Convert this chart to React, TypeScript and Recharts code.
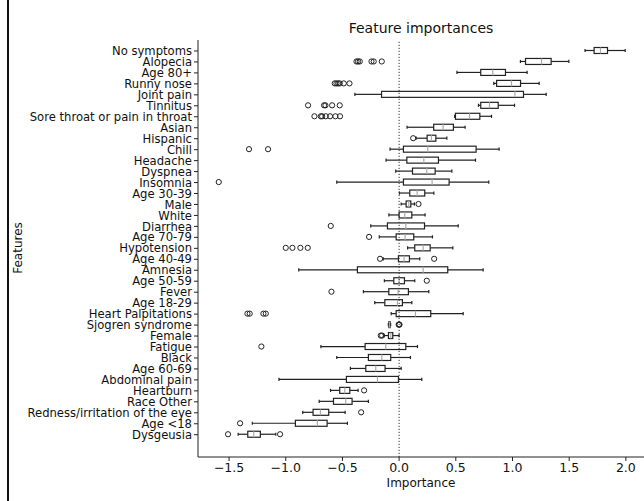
import React from 'react';
import { ComposedChart, Bar, XAxis, YAxis, ReferenceLine } from 'recharts';

const features = [
  'No symptoms', 'Alopecia', 'Age 80+', 'Runny nose', 'Joint pain', 'Tinnitus',
  'Sore throat or pain in throat', 'Asian', 'Hispanic', 'Chill', 'Headache', 'Dyspnea',
  'Insomnia', 'Age 30-39', 'Male', 'White', 'Diarrhea', 'Age 70-79', 'Hypotension',
  'Age 40-49', 'Amnesia', 'Age 50-59', 'Fever', 'Age 18-29', 'Heart Palpitations',
  'Sjogren syndrome', 'Female', 'Fatigue', 'Black', 'Age 60-69', 'Abdominal pain',
  'Heartburn', 'Race Other', 'Redness/irritation of the eye', 'Age <18', 'Dysgeusia',
];

const whiskerLow = [1.64, 1.07, 0.51, 0.835, -0.39, 0.7, 0.49, 0.07, 0.15, -0.08, -0.115, -0.03, -0.55, 0.003, 0.018, -0.09, -0.25, -0.175, 0.075, -0.14, -0.885, -0.13, -0.315, -0.215, -0.07, -0.095, -0.135, -0.69, -0.55, -0.43, -1.06, -0.605, -0.705, -0.85, -1.295, -1.42];
const q1 = [1.72, 1.115, 0.72, 0.86, -0.155, 0.72, 0.497, 0.305, 0.247, 0.038, 0.068, 0.118, 0.038, 0.094, 0.062, 0.0, -0.103, -0.026, 0.138, -0.006, -0.368, -0.047, -0.091, -0.126, -0.026, -0.09, -0.094, -0.3, -0.271, -0.294, -0.465, -0.524, -0.579, -0.759, -0.915, -1.335];
const median = [1.776, 1.256, 0.826, 0.991, 1.021, 0.797, 0.621, 0.388, 0.285, 0.253, 0.218, 0.244, 0.291, 0.159, 0.085, 0.05, 0.059, 0.053, 0.212, 0.044, 0.212, 0.0, -0.009, -0.015, 0.144, -0.085, -0.074, -0.118, -0.153, -0.206, -0.191, -0.479, -0.471, -0.694, -0.721, -1.282];
const q3 = [1.838, 1.341, 0.938, 1.071, 1.097, 0.874, 0.712, 0.479, 0.324, 0.679, 0.347, 0.318, 0.441, 0.226, 0.103, 0.112, 0.224, 0.129, 0.274, 0.091, 0.429, 0.047, 0.082, 0.029, 0.279, -0.08, -0.056, 0.059, -0.074, -0.124, -0.006, -0.435, -0.415, -0.621, -0.635, -1.224];
const whiskerHigh = [1.994, 1.497, 1.129, 1.235, 1.297, 1.018, 0.815, 0.582, 0.421, 0.882, 0.674, 0.465, 0.791, 0.306, 0.135, 0.229, 0.521, 0.294, 0.474, 0.182, 0.741, 0.138, 0.262, 0.112, 0.565, -0.075, 0.0, 0.162, 0.1, 0.018, 0.2, -0.362, -0.271, -0.476, -0.456, -1.088];
const outliers: number[][] = [
  [], [-0.376, -0.362, -0.347, -0.244, -0.224, -0.153], [], [-0.568, -0.553, -0.538, -0.524, -0.488, -0.438],
  [], [-0.803, -0.662, -0.65, -0.591, -0.524], [-0.747, -0.691, -0.679, -0.647, -0.609, -0.562, -0.521],
  [], [0.124], [-1.324, -1.156], [], [], [-1.591], [], [0.171], [], [-0.603], [-0.265],
  [-1.0, -0.941, -0.871, -0.806], [-0.168, 0.309], [], [0.244], [-0.597], [],
  [-1.338, -1.318, -1.197, -1.176], [-0.004, 0.0, 0.003], [-0.162, -0.15], [-1.215],
  [], [], [], [-0.309], [], [-0.335], [-1.403], [-1.509, -1.05],
];

const xTicks = [-1.5, -1.0, -0.5, 0.0, 0.5, 1.0, 1.5, 2.0];

const data = features.map((name, i) => ({
  name,
  lo: whiskerLow[i],
  q1: q1[i],
  med: median[i],
  q3: q3[i],
  hi: whiskerHigh[i],
  out: outliers[i],
}));

const FONT = '"DejaVu Sans", sans-serif';

// draws one box plot row; positions derived from the bar's [lo, hi] pixel extent
const BoxShape = (props: any) => {
  const { x, y, width, height, payload } = props;
  const { lo, q1: b1, med, q3: b3, hi, out } = payload;
  const span = hi - lo || 1;
  const px = (v: number) => x + ((v - lo) / span) * width;
  const cy = y + height / 2;
  const cap = 1.6;
  return (
    <g>
      <line x1={px(lo)} x2={px(b1)} y1={cy} y2={cy} stroke="#222" strokeWidth={1.2} />
      <line x1={px(b3)} x2={px(hi)} y1={cy} y2={cy} stroke="#222" strokeWidth={1.2} />
      <line x1={px(lo)} x2={px(lo)} y1={cy - cap} y2={cy + cap} stroke="#222" strokeWidth={1.2} />
      <line x1={px(hi)} x2={px(hi)} y1={cy - cap} y2={cy + cap} stroke="#222" strokeWidth={1.2} />
      <rect x={px(b1)} y={y} width={Math.max(px(b3) - px(b1), 0.5)} height={height} fill="#fff" stroke="#222" strokeWidth={1.2} />
      <line x1={px(med)} x2={px(med)} y1={y} y2={y + height} stroke="#aaa" strokeWidth={1.2} />
      {out.map((v: number, k: number) => (
        <circle key={k} cx={px(v)} cy={cy} r={2.6} fill="none" stroke="#222" strokeWidth={1} />
      ))}
    </g>
  );
};

const fmt = (v: number) => v.toFixed(1).replace('-', '\u2212');

export default function App() {
  return (
    <div style={{ position: 'absolute', left: 0, top: 0, width: 644, height: 501, background: '#fff', fontFamily: FONT }}>
      <div style={{ position: 'absolute', left: 7, top: 0, width: 1.5, height: 501, background: '#111' }} />
      <div style={{ position: 'absolute', left: 198, width: 446, top: 20, textAlign: 'center', fontSize: 14, color: '#111' }}>
        Feature importances
      </div>
      <div
        style={{
          position: 'absolute', left: 18, top: 248, fontSize: 12, color: '#111',
          transform: 'translate(-50%, -50%) rotate(-90deg)', whiteSpace: 'nowrap',
        }}
      >
        Features
      </div>
      <ComposedChart
        width={644}
        height={501}
        data={data}
        layout="vertical"
        margin={{ top: 40, right: 0, bottom: 0, left: 0 }}
        barSize={6}
      >
        <XAxis
          type="number"
          domain={[-1.774, 2.16]}
          ticks={xTicks}
          tickFormatter={fmt}
          allowDataOverflow
          height={44}
          tickSize={4}
          tickMargin={2}
          stroke="#222"
          tick={{ fill: '#111', fontSize: 12.5, fontFamily: FONT }}
          label={{ value: 'Importance', position: 'insideBottom', offset: 14, fill: '#111', fontSize: 12, fontFamily: FONT }}
        />
        <XAxis xAxisId="top" orientation="top" type="number" domain={[-1.774, 2.16]} height={0} tick={false} tickLine={false} stroke="#222" />
        <YAxis
          type="category"
          dataKey="name"
          width={198}
          interval={0}
          tickSize={4}
          tickMargin={2}
          padding={{ top: 5.5, bottom: 16.8 }}
          stroke="#222"
          tick={{ fill: '#111', fontSize: 11.6, fontFamily: FONT }}
        />
        <ReferenceLine x={0} stroke="#333" strokeDasharray="1.2 1.8" strokeWidth={1} />
        <Bar dataKey={(d: any) => [d.lo, d.hi]} shape={BoxShape} isAnimationActive={false} />
      </ComposedChart>
    </div>
  );
}
